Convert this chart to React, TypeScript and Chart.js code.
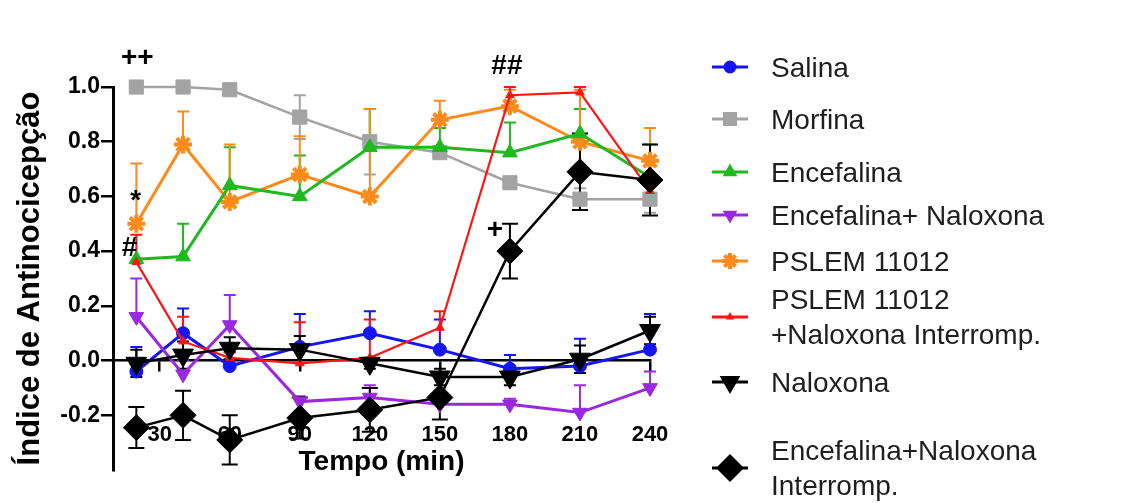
import React, { useEffect, useRef } from "react";
import { Chart, registerables } from "chart.js";

Chart.register(...registerables);

// ---------- data ----------
const times = [20, 40, 60, 90, 120, 150, 180, 210, 240];
const xTicks = [30, 60, 90, 120, 150, 180, 210, 240];
const yTicks = [-0.2, 0, 0.2, 0.4, 0.6, 0.8, 1.0];

const salina = [-0.04, 0.1, -0.02, 0.05, 0.1, 0.04, -0.03, -0.02, 0.04];
const salinaErr = [0.09, 0.09, 0.05, 0.12, 0.08, 0.11, 0.05, 0.1, 0.13];

const morfina = [1.0, 1.0, 0.99, 0.89, 0.8, 0.76, 0.65, 0.59, 0.59];
const morfinaErr = [0, 0, 0, 0.08, 0.12, 0.02, 0.02, 0.04, 0.05];

const encefalina = [0.37, 0.38, 0.64, 0.6, 0.78, 0.78, 0.76, 0.83, 0.67];
const encefalinaErr = [0, 0.12, 0.14, 0.15, 0.14, 0.07, 0.11, 0.09, 0.12];

const encNaloxona = [0.16, -0.05, 0.13, -0.15, -0.135, -0.16, -0.16, -0.19, -0.1];
const encNaloxonaErr = [0.14, 0.05, 0.11, 0.02, 0.045, 0.02, 0.02, 0.1, 0.06];

const pslem = [0.5, 0.79, 0.58, 0.68, 0.6, 0.88, 0.93, 0.8, 0.73];
const pslemErr = [0.22, 0.12, 0.21, 0.14, 0.32, 0.07, 0.06, 0.19, 0.12];

const pslemNalInt = [0.36, 0.07, 0.01, -0.01, 0.01, 0.12, 0.97, 0.98, 0.62];
const pslemNalIntErr = [0.1, 0.09, 0.02, 0.15, 0.14, 0.06, 0.03, 0.02, 0.03];

const naloxona = [-0.01, 0.02, 0.045, 0.04, -0.01, -0.06, -0.06, 0.005, 0.11];
const naloxonaErr = [0.05, 0.05, 0.04, 0.05, 0.02, 0.03, 0.03, 0.05, 0.05];

const encNalInt = [-0.245, -0.2, -0.29, -0.21, -0.18, -0.135, 0.4, 0.69, 0.66];
const encNalIntErr = [0.075, 0.09, 0.09, 0.075, 0.08, 0.08, 0.1, 0.14, 0.13];

const seriesNames = [
  "Salina",
  "Morfina",
  "Encefalina",
  "Encefalina+ Naloxona",
  "PSLEM 11012",
  "PSLEM 11012\n+Naloxona Interromp.",
  "Naloxona",
  "Encefalina+Naloxona\nInterromp.",
];

const annText = ["++", "*", "#", "##", "+"];
const annX = [20.4, 19.7, 17.1, 178.7, 173.6];
const annY = [1.105, 0.583, 0.41, 1.075, 0.477];

const xTitle = "Tempo (min)";
const yTitle = "Índice de Antinocicepção";

// ---------- styles ----------
const FONT = "'Liberation Sans', Arial, Helvetica, sans-serif";

type Series = {
  values: number[];
  err: number[];
  mode: "up" | "both";
  color: string;
  shape: string;
  radius: number;
  rotation: number;
  lineWidth: number;
  order: number;
};

const series: Series[] = [
  { values: salina, err: salinaErr, mode: "up", color: "#1414f5", shape: "circle", radius: 6.5, rotation: 0, lineWidth: 3, order: 5 },
  { values: morfina, err: morfinaErr, mode: "both", color: "#a3a3a3", shape: "rect", radius: 10, rotation: 0, lineWidth: 2.5, order: 8 },
  { values: encefalina, err: encefalinaErr, mode: "up", color: "#1fb81f", shape: "triangle", radius: 8.5, rotation: 0, lineWidth: 3, order: 6 },
  { values: encNaloxona, err: encNaloxonaErr, mode: "up", color: "#9a28e0", shape: "triangle", radius: 8.5, rotation: 180, lineWidth: 3, order: 4 },
  { values: pslem, err: pslemErr, mode: "up", color: "#ff8a1c", shape: "star", radius: 9, rotation: 0, lineWidth: 3, order: 7 },
  { values: pslemNalInt, err: pslemNalIntErr, mode: "up", color: "#ff1414", shape: "triangle", radius: 5, rotation: 0, lineWidth: 2.2, order: 3 },
  { values: naloxona, err: naloxonaErr, mode: "both", color: "#000000", shape: "triangle", radius: 12, rotation: 180, lineWidth: 2.5, order: 1 },
  { values: encNalInt, err: encNalIntErr, mode: "both", color: "#000000", shape: "rectRot", radius: 13, rotation: 0, lineWidth: 2.5, order: 0 },
];

const legendMarkerY = [67, 119, 172, 215, 261, 317, 382, 468];

const errorBarPlugin = {
  id: "errorBars",
  beforeDatasetsDraw(chart: any) {
    const { ctx, scales } = chart;
    const xs = scales.x;
    const ys = scales.y;
    series.forEach((s) => {
      ctx.save();
      ctx.strokeStyle = s.color;
      ctx.lineWidth = 2;
      const cap = s.shape === "rectRot" ? 8 : 6;
      s.values.forEach((v, i) => {
        const e = s.err[i];
        if (!e) return;
        const px = xs.getPixelForValue(times[i]);
        const py = ys.getPixelForValue(v);
        const top = ys.getPixelForValue(v + e);
        const bot = ys.getPixelForValue(v - e);
        ctx.beginPath();
        ctx.moveTo(px, py);
        ctx.lineTo(px, top);
        ctx.moveTo(px - cap, top);
        ctx.lineTo(px + cap, top);
        if (s.mode === "both") {
          ctx.moveTo(px, py);
          ctx.lineTo(px, bot);
          ctx.moveTo(px - cap, bot);
          ctx.lineTo(px + cap, bot);
        }
        ctx.stroke();
      });
      ctx.restore();
    });
  },
};

const annotationPlugin = {
  id: "annotations",
  afterDatasetsDraw(chart: any) {
    const { ctx, scales } = chart;
    ctx.save();
    ctx.fillStyle = "#000";
    ctx.font = `bold 28px ${FONT}`;
    ctx.textAlign = "center";
    ctx.textBaseline = "middle";
    annText.forEach((t, i) => {
      ctx.fillText(t, scales.x.getPixelForValue(annX[i]), scales.y.getPixelForValue(annY[i]));
    });
    ctx.restore();
  },
};

function Marker({ s }: { s: Series }) {
  const c = s.color;
  const cx = 22;
  const cy = 15;
  let shape: React.ReactNode = null;
  if (s.shape === "circle") shape = <circle cx={cx} cy={cy} r={6.5} fill={c} />;
  else if (s.shape === "rect") shape = <rect x={cx - 7} y={cy - 7} width={14} height={14} fill={c} />;
  else if (s.shape === "triangle" && s.rotation === 0) {
    const r = s.radius;
    shape = (
      <polygon
        points={`${cx},${cy - r} ${cx + r * 0.866},${cy + r / 2} ${cx - r * 0.866},${cy + r / 2}`}
        fill={c}
      />
    );
  } else if (s.shape === "triangle") {
    const r = s.radius;
    shape = (
      <polygon
        points={`${cx},${cy + r} ${cx + r * 0.866},${cy - r / 2} ${cx - r * 0.866},${cy - r / 2}`}
        fill={c}
      />
    );
  } else if (s.shape === "star") {
    const r = 8;
    shape = (
      <g stroke={c} strokeWidth={4}>
        <line x1={cx - r} y1={cy} x2={cx + r} y2={cy} />
        <line x1={cx} y1={cy - r} x2={cx} y2={cy + r} />
        <line x1={cx - r * 0.7} y1={cy - r * 0.7} x2={cx + r * 0.7} y2={cy + r * 0.7} />
        <line x1={cx - r * 0.7} y1={cy + r * 0.7} x2={cx + r * 0.7} y2={cy - r * 0.7} />
      </g>
    );
  } else if (s.shape === "rectRot") {
    const r = 14;
    shape = <polygon points={`${cx},${cy - r} ${cx + r},${cy} ${cx},${cy + r} ${cx - r},${cy}`} fill={c} />;
  }
  return (
    <svg width={44} height={30} style={{ display: "block" }}>
      <line x1={4} y1={cy} x2={40} y2={cy} stroke={c} strokeWidth={3} />
      {shape}
    </svg>
  );
}

export default function App() {
  const ref = useRef<HTMLCanvasElement | null>(null);

  useEffect(() => {
    if (!ref.current) return;
    const chart = new Chart(ref.current, {
      type: "line",
      data: {
        datasets: series.map((s, k) => ({
          label: seriesNames[k],
          data: times.map((t, i) => ({ x: t, y: s.values[i] })),
          borderColor: s.color,
          backgroundColor: s.color,
          borderWidth: s.lineWidth,
          pointStyle: s.shape as any,
          pointRadius: s.radius,
          pointRotation: s.rotation,
          pointBackgroundColor: s.color,
          pointBorderColor: s.color,
          pointBorderWidth: s.shape === "star" ? 4 : 1,
          tension: 0,
          clip: false as any,
          order: s.order,
        })),
      },
      options: {
        responsive: false,
        animation: false,
        events: [],
        layout: { padding: { left: 0, top: 87, right: 479, bottom: 33 } },
        plugins: { legend: { display: false }, tooltip: { enabled: false } },
        scales: {
          x: {
            type: "linear",
            min: 10,
            max: 240,
            position: { y: 0 } as any,
            afterBuildTicks: (s: any) => {
              s.ticks = xTicks.map((v) => ({ value: v }));
            },
            grid: { drawOnChartArea: false, drawTicks: true, tickLength: 10, color: "#000", lineWidth: 2.5 },
            border: { display: true, color: "#000", width: 2.5 },
            ticks: {
              padding: 51,
              color: "#000",
              autoSkip: false,
              maxRotation: 0,
              font: { family: FONT, size: 22, weight: "bold" },
            },
            title: {
              display: true,
              text: xTitle,
              color: "#000",
              padding: { top: -53, bottom: 0 },
              font: { family: FONT, size: 28, weight: "bold" },
            },
          },
          y: {
            type: "linear",
            min: -0.4,
            max: 1.0,
            afterBuildTicks: (s: any) => {
              s.ticks = yTicks.map((v) => ({ value: v }));
            },
            afterFit: (s: any) => {
              s.width = 113;
            },
            grid: { drawOnChartArea: false, drawTicks: true, tickLength: 12, color: "#000", lineWidth: 2.5 },
            border: { display: true, color: "#000", width: 3 },
            ticks: {
              padding: 1,
              color: "#000",
              font: { family: FONT, size: 23, weight: "bold" },
              callback: (v: any) => Number(v).toFixed(1),
            },
            title: {
              display: true,
              text: yTitle,
              color: "#000",
              padding: { top: 12, bottom: 0 },
              font: { family: FONT, size: 31, weight: "bold" },
            },
          },
        },
      },
      plugins: [errorBarPlugin, annotationPlugin],
    });
    return () => chart.destroy();
  }, []);

  return (
    <div style={{ position: "absolute", left: 0, top: 0, width: 1129, height: 503, background: "#fff", overflow: "hidden" }}>
      <canvas ref={ref} width={1129} height={503} style={{ position: "absolute", left: 0, top: 0 }} />
      {series.map((s, k) => {
        const lines = seriesNames[k].split("\n");
        const lh = 35;
        const y = legendMarkerY[k];
        return (
          <React.Fragment key={k}>
            <div style={{ position: "absolute", left: 708, top: y - 15 }}>
              <Marker s={s} />
            </div>
            <div
              style={{
                position: "absolute",
                left: 771,
                top: y - (lines.length * lh) / 2,
                fontFamily: FONT,
                fontSize: 28,
                lineHeight: `${lh}px`,
                color: "#1e1e1e",
                whiteSpace: "nowrap",
              }}
            >
              {lines.map((l, j) => (
                <div key={j}>{l}</div>
              ))}
            </div>
          </React.Fragment>
        );
      })}
    </div>
  );
}
